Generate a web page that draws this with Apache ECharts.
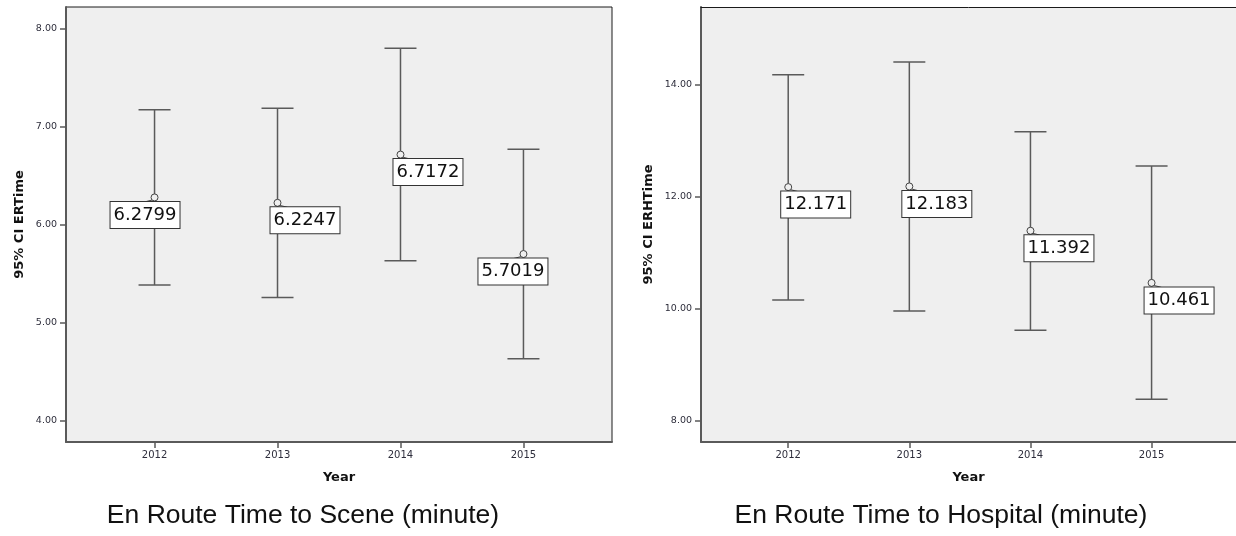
<!DOCTYPE html>
<html>
<head>
<meta charset="utf-8">
<script src="https://cdn.jsdelivr.net/npm/echarts@6/dist/echarts.min.js"></script>
<style>
  html, body { margin: 0; padding: 0; background: #fff; }
  #chart { width: 1236px; height: 536px; }
</style>
</head>
<body>
<div id="chart"></div>
<script>
// data
const years = [2012, 2013, 2014, 2015];

const sceneMean = [6.2799, 6.2247, 6.7172, 5.7019];
const sceneLow = [5.385, 5.259, 5.633, 4.632];
const sceneHigh = [7.176, 7.190, 7.803, 6.771];
const sceneTicks = [4, 5, 6, 7, 8];

const hospMean = [12.171, 12.183, 11.392, 10.461];
const hospLow = [10.155, 9.959, 9.614, 8.382];
const hospHigh = [14.179, 14.405, 13.161, 12.548];
const hospTicks = [8, 10, 12, 14];

// label box shift (px, left of the mean point) - style only
const sceneLabelDx = [-44, -7, -7, -45];
const hospLabelDx = [-7, -7, -6, -7];

const tickColor = '#2e2e3c';
const lineColor = '#5a5a5a';
const bg = '#efefef';

function rows(low, high, mean) {
  return years.map((y, i) => [y, low[i], high[i], mean[i]]);
}

function makeRender(dxList) {
  return function (params, api) {
    const i = params.dataIndex;
    const x = api.value(0);
    const hi = api.coord([x, api.value(2)]);
    const lo = api.coord([x, api.value(1)]);
    const mid = api.coord([x, api.value(3)]);
    const half = 16;
    const st = { stroke: lineColor, lineWidth: 1.5 };
    const boxX = mid[0] + dxList[i];
    const boxY = mid[1] + 4.5;
    const dir = (boxX + 34) < mid[0] ? -1 : 1;
    return {
      type: 'group',
      children: [
        { type: 'line', shape: { x1: hi[0], y1: hi[1], x2: lo[0], y2: lo[1] }, style: st },
        { type: 'line', shape: { x1: hi[0] - half, y1: hi[1], x2: hi[0] + half, y2: hi[1] }, style: st },
        { type: 'line', shape: { x1: lo[0] - half, y1: lo[1], x2: lo[0] + half, y2: lo[1] }, style: st },
        { type: 'line', shape: { x1: mid[0] + dir * 2, y1: mid[1] + 2.5, x2: mid[0] + dir * 10, y2: boxY },
          style: { stroke: '#444', lineWidth: 1 } },
        { type: 'circle', shape: { cx: mid[0], cy: mid[1], r: 3.5 },
          style: { fill: bg, stroke: '#444', lineWidth: 1 } },
        { type: 'text', x: boxX, y: boxY,
          style: {
            text: String(api.value(3)),
            font: '18px "DejaVu Sans"',
            fill: '#111',
            align: 'left',
            verticalAlign: 'top',
            lineHeight: 20,
            backgroundColor: '#fff',
            borderColor: '#333',
            borderWidth: 1,
            padding: [3, 3, 3, 3]
          } }
      ]
    };
  };
}

function xAxisFor(idx, max) {
  return {
    gridIndex: idx,
    type: 'value',
    min: 2011.28,
    max: max,
    splitLine: { show: false },
    axisLine: { show: true, onZero: false, lineStyle: { color: lineColor, width: 2 } },
    axisTick: { show: true, customValues: years, length: 6, lineStyle: { color: lineColor, width: 1.5 } },
    axisLabel: {
      customValues: years, margin: 8, fontSize: 10, color: tickColor,
      fontFamily: 'DejaVu Sans', formatter: v => String(v)
    },
    name: 'Year',
    nameLocation: 'middle',
    nameGap: 29,
    nameTextStyle: { fontWeight: 'bold', fontSize: 13, color: '#111', fontFamily: 'DejaVu Sans' }
  };
}

function yAxisFor(idx, min, max, ticks, name, gap) {
  return {
    gridIndex: idx,
    type: 'value',
    min: min,
    max: max,
    splitLine: { show: false },
    axisLine: { show: true, onZero: false, lineStyle: { color: lineColor, width: 2 } },
    axisTick: { show: true, customValues: ticks, length: 6, lineStyle: { color: lineColor, width: 1.5 } },
    axisLabel: {
      customValues: ticks, margin: 9, fontSize: 9.5, color: tickColor,
      fontFamily: 'DejaVu Sans', formatter: v => v.toFixed(2)
    },
    name: name,
    nameLocation: 'middle',
    nameGap: gap,
    nameTextStyle: { fontWeight: 'bold', fontSize: 13, color: '#111', fontFamily: 'DejaVu Sans' }
  };
}

const captionStyle = { fontFamily: 'Liberation Sans', fontSize: 26.5, fontWeight: 'normal', color: '#111' };

const option = {
  animation: false,
  title: [
    { text: 'En Route Time to Scene (minute)', left: 303, top: 502, textAlign: 'center', padding: 0, textStyle: captionStyle },
    { text: 'En Route Time to Hospital (minute)', left: 941, top: 502, textAlign: 'center', padding: 0, textStyle: captionStyle }
  ],
  grid: [
    { left: 66, top: 7, width: 546, height: 435, show: true, backgroundColor: bg, borderColor: '#1a1a1a', borderWidth: 1 },
    // right panel runs past the page edge, so no right border
    { left: 701, top: 7, right: 0, height: 435, show: true, backgroundColor: bg, borderWidth: 0 }
  ],
  xAxis: [
    xAxisFor(0, 2015.72),
    xAxisFor(1, 2015.697),
    {
      gridIndex: 1, type: 'value', position: 'top', min: 2011.28, max: 2015.697,
      splitLine: { show: false }, axisTick: { show: false }, axisLabel: { show: false },
      axisLine: { show: true, onZero: false, lineStyle: { color: '#1a1a1a', width: 1 } }
    }
  ],
  yAxis: [
    yAxisFor(0, 3.782, 8.2247, sceneTicks, '95% CI ERTime', 40),
    yAxisFor(1, 7.62, 15.387, hospTicks, '95% CI ERHTime', 46)
  ],
  series: [
    {
      type: 'custom', xAxisIndex: 0, yAxisIndex: 0,
      renderItem: makeRender(sceneLabelDx),
      encode: { x: 0, y: [1, 2, 3] },
      data: rows(sceneLow, sceneHigh, sceneMean)
    },
    {
      type: 'custom', xAxisIndex: 1, yAxisIndex: 1,
      renderItem: makeRender(hospLabelDx),
      encode: { x: 0, y: [1, 2, 3] },
      data: rows(hospLow, hospHigh, hospMean)
    }
  ]
};

const chart = echarts.init(document.getElementById('chart'));
chart.setOption(option);
</script>
</body>
</html>
